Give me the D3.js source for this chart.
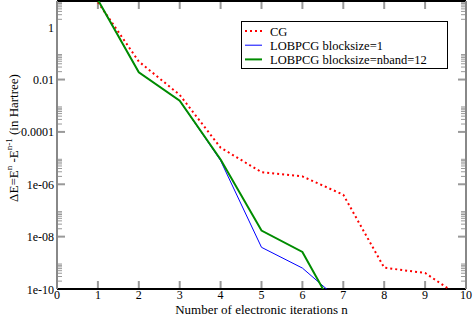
<!DOCTYPE html>
<html lang="en">
<head>
    <meta charset="UTF-8">
    <title>Convergence of electronic iterations</title>
    <script src="https://d3js.org/d3.v7.min.js"></script>
    <style>
        body { margin: 0; background: #fff; }
        svg { display: block; }
        svg text { font-family: "Liberation Serif", "DejaVu Serif", serif; }
        .tick-label { font-size: 12px; fill: #000; }
        .axis-title { font-size: 13px; fill: #000; }
        .legend text { font-size: 12.5px; fill: #000; }
    </style>
</head>
<body>
    <svg id="chart" width="474" height="316"></svg>
    <script>
        // iteration numbers
        const iterations = [1, 2, 3, 4, 5, 6, 7, 8, 9, 10];
        // energy differences (Hartree)
        const cgValues = [9, 0.049, 0.0026, 2.5e-5, 2.9e-6, 2.0e-6, 4.0e-7, 6.5e-10, 4.1e-10, 3.6e-11];
        const lobpcg1Values = [11, 0.019, 0.00155, 8.0e-6, 3.9e-9, 6.3e-10, 2.8e-11];
        const lobpcgNbandValues = [11, 0.019, 0.00155, 8.8e-6, 1.7e-8, 2.6e-9, 4.0e-12];

        const seriesNames = ['CG', 'LOBPCG blocksize=1', 'LOBPCG blocksize=nband=12'];
        const xTicks = [0, 1, 2, 3, 4, 5, 6, 7, 8, 9, 10];
        const yTicks = [1, 0.01, 0.0001, 1e-6, 1e-8, 1e-10];
        const yTickLabels = ['1', '0.01', '0.0001', '1e-06', '1e-08', '1e-10'];

        const margin = { left: 57, right: 8, top: 1, bottom: 27 };
        const W = 474, H = 316;
        const svg = d3.select('#chart');

        const x = d3.scaleLinear().domain([0, 10]).range([margin.left, W - margin.right]);
        const y = d3.scaleLog().domain([1e-10, 10]).range([H - margin.bottom, margin.top]);

        // minor ticks: 2..9 times each major tick
        const minorTicks = [];
        yTicks.forEach(function(m) {
            for (let k = 2; k <= 9; k++) {
                const v = m * k;
                if (v < 10) minorTicks.push(v);
            }
        });

        const tickColor = '#999';
        const x0 = x(0), x1 = x(10), y0 = y(1e-10), y1 = y(10);

        // ticks on the four sides, pointing inward
        const g = svg.append('g');
        xTicks.slice(1, -1).forEach(function(t) {
            g.append('line').attr('x1', x(t)).attr('x2', x(t)).attr('y1', y0).attr('y2', y0 - 8)
                .attr('stroke', tickColor).attr('stroke-width', 2);
            g.append('line').attr('x1', x(t)).attr('x2', x(t)).attr('y1', y1).attr('y2', y1 + 8)
                .attr('stroke', tickColor).attr('stroke-width', 2);
        });
        yTicks.slice(1).forEach(function(t) {
            g.append('line').attr('x1', x0).attr('x2', x0 + 8).attr('y1', y(t)).attr('y2', y(t))
                .attr('stroke', tickColor).attr('stroke-width', 2);
            g.append('line').attr('x1', x1).attr('x2', x1 - 8).attr('y1', y(t)).attr('y2', y(t))
                .attr('stroke', tickColor).attr('stroke-width', 2);
        });
        minorTicks.forEach(function(t) {
            g.append('line').attr('x1', x0).attr('x2', x0 + 5).attr('y1', y(t)).attr('y2', y(t))
                .attr('stroke', tickColor).attr('stroke-width', 1);
            g.append('line').attr('x1', x1).attr('x2', x1 - 5).attr('y1', y(t)).attr('y2', y(t))
                .attr('stroke', tickColor).attr('stroke-width', 1);
        });

        // frame
        svg.append('line').attr('x1', x0).attr('x2', x1).attr('y1', y1).attr('y2', y1).attr('stroke', '#000').attr('stroke-width', 2);
        svg.append('line').attr('x1', x0).attr('x2', x1).attr('y1', y0).attr('y2', y0).attr('stroke', '#000').attr('stroke-width', 2);
        svg.append('line').attr('x1', x0).attr('x2', x0).attr('y1', y1).attr('y2', y0).attr('stroke', '#888').attr('stroke-width', 2);
        svg.append('line').attr('x1', x1).attr('x2', x1).attr('y1', y1).attr('y2', y0).attr('stroke', '#888').attr('stroke-width', 2);

        // tick labels
        svg.selectAll('.xlab').data(xTicks).enter().append('text')
            .attr('class', 'tick-label').attr('text-anchor', 'middle')
            .attr('x', function(d) { return x(d); }).attr('y', 299)
            .text(function(d) { return d; });
        svg.selectAll('.ylab').data(yTicks).enter().append('text')
            .attr('class', 'tick-label').attr('text-anchor', 'end')
            .attr('x', x0 - 3).attr('y', function(d) { return y(d) + 4.5; })
            .text(function(d, i) { return yTickLabels[i]; });

        // axis titles
        svg.append('text').attr('class', 'axis-title').attr('text-anchor', 'middle')
            .attr('x', (x0 + x1) / 2).attr('y', 314)
            .text('Number of electronic iterations n');

        const yt = svg.append('text').attr('class', 'axis-title').attr('text-anchor', 'middle')
            .attr('transform', 'translate(18,138) rotate(-90)');
        yt.append('tspan').text('ΔE=E');
        yt.append('tspan').attr('dy', -6).attr('font-size', 9).text('n');
        yt.append('tspan').attr('dy', 6).text(' -E');
        yt.append('tspan').attr('dy', -6).attr('font-size', 9).text('n-1');
        yt.append('tspan').attr('dy', 6).text('  (in Hartree)');

        // data lines
        svg.append('clipPath').attr('id', 'plot-clip').append('rect')
            .attr('x', x0).attr('y', y1).attr('width', x1 - x0).attr('height', y0 - y1);
        const line = d3.line().x(function(d) { return x(d[0]); }).y(function(d) { return y(d[1]); });
        const plot = svg.append('g').attr('clip-path', 'url(#plot-clip)');

        function pairs(vals) { return vals.map(function(v, i) { return [iterations[i], v]; }); }

        const styles = [
            { color: '#ff0000', width: 2, dash: '2,3' },
            { color: '#0000ff', width: 1, dash: null },
            { color: '#008c00', width: 2, dash: null }
        ];
        [cgValues, lobpcg1Values, lobpcgNbandValues].forEach(function(vals, i) {
            plot.append('path').datum(pairs(vals))
                .attr('fill', 'none').attr('stroke', styles[i].color)
                .attr('stroke-width', styles[i].width)
                .attr('stroke-dasharray', styles[i].dash)
                .attr('d', line);
        });

        // legend
        const legend = svg.append('g').attr('class', 'legend');
        legend.append('rect').attr('x', 241.5).attr('y', 21.5).attr('width', 206).attr('height', 47)
            .attr('fill', '#fff').attr('stroke', '#000').attr('stroke-width', 1);
        seriesNames.forEach(function(name, i) {
            const ly = 31 + i * 14.2;
            legend.append('line').attr('x1', 245).attr('x2', 262).attr('y1', ly).attr('y2', ly)
                .attr('stroke', styles[i].color).attr('stroke-width', styles[i].width)
                .attr('stroke-dasharray', styles[i].dash);
            legend.append('text').attr('x', 270).attr('y', ly + 4.5).text(name);
        });
    </script>
</body>
</html>
